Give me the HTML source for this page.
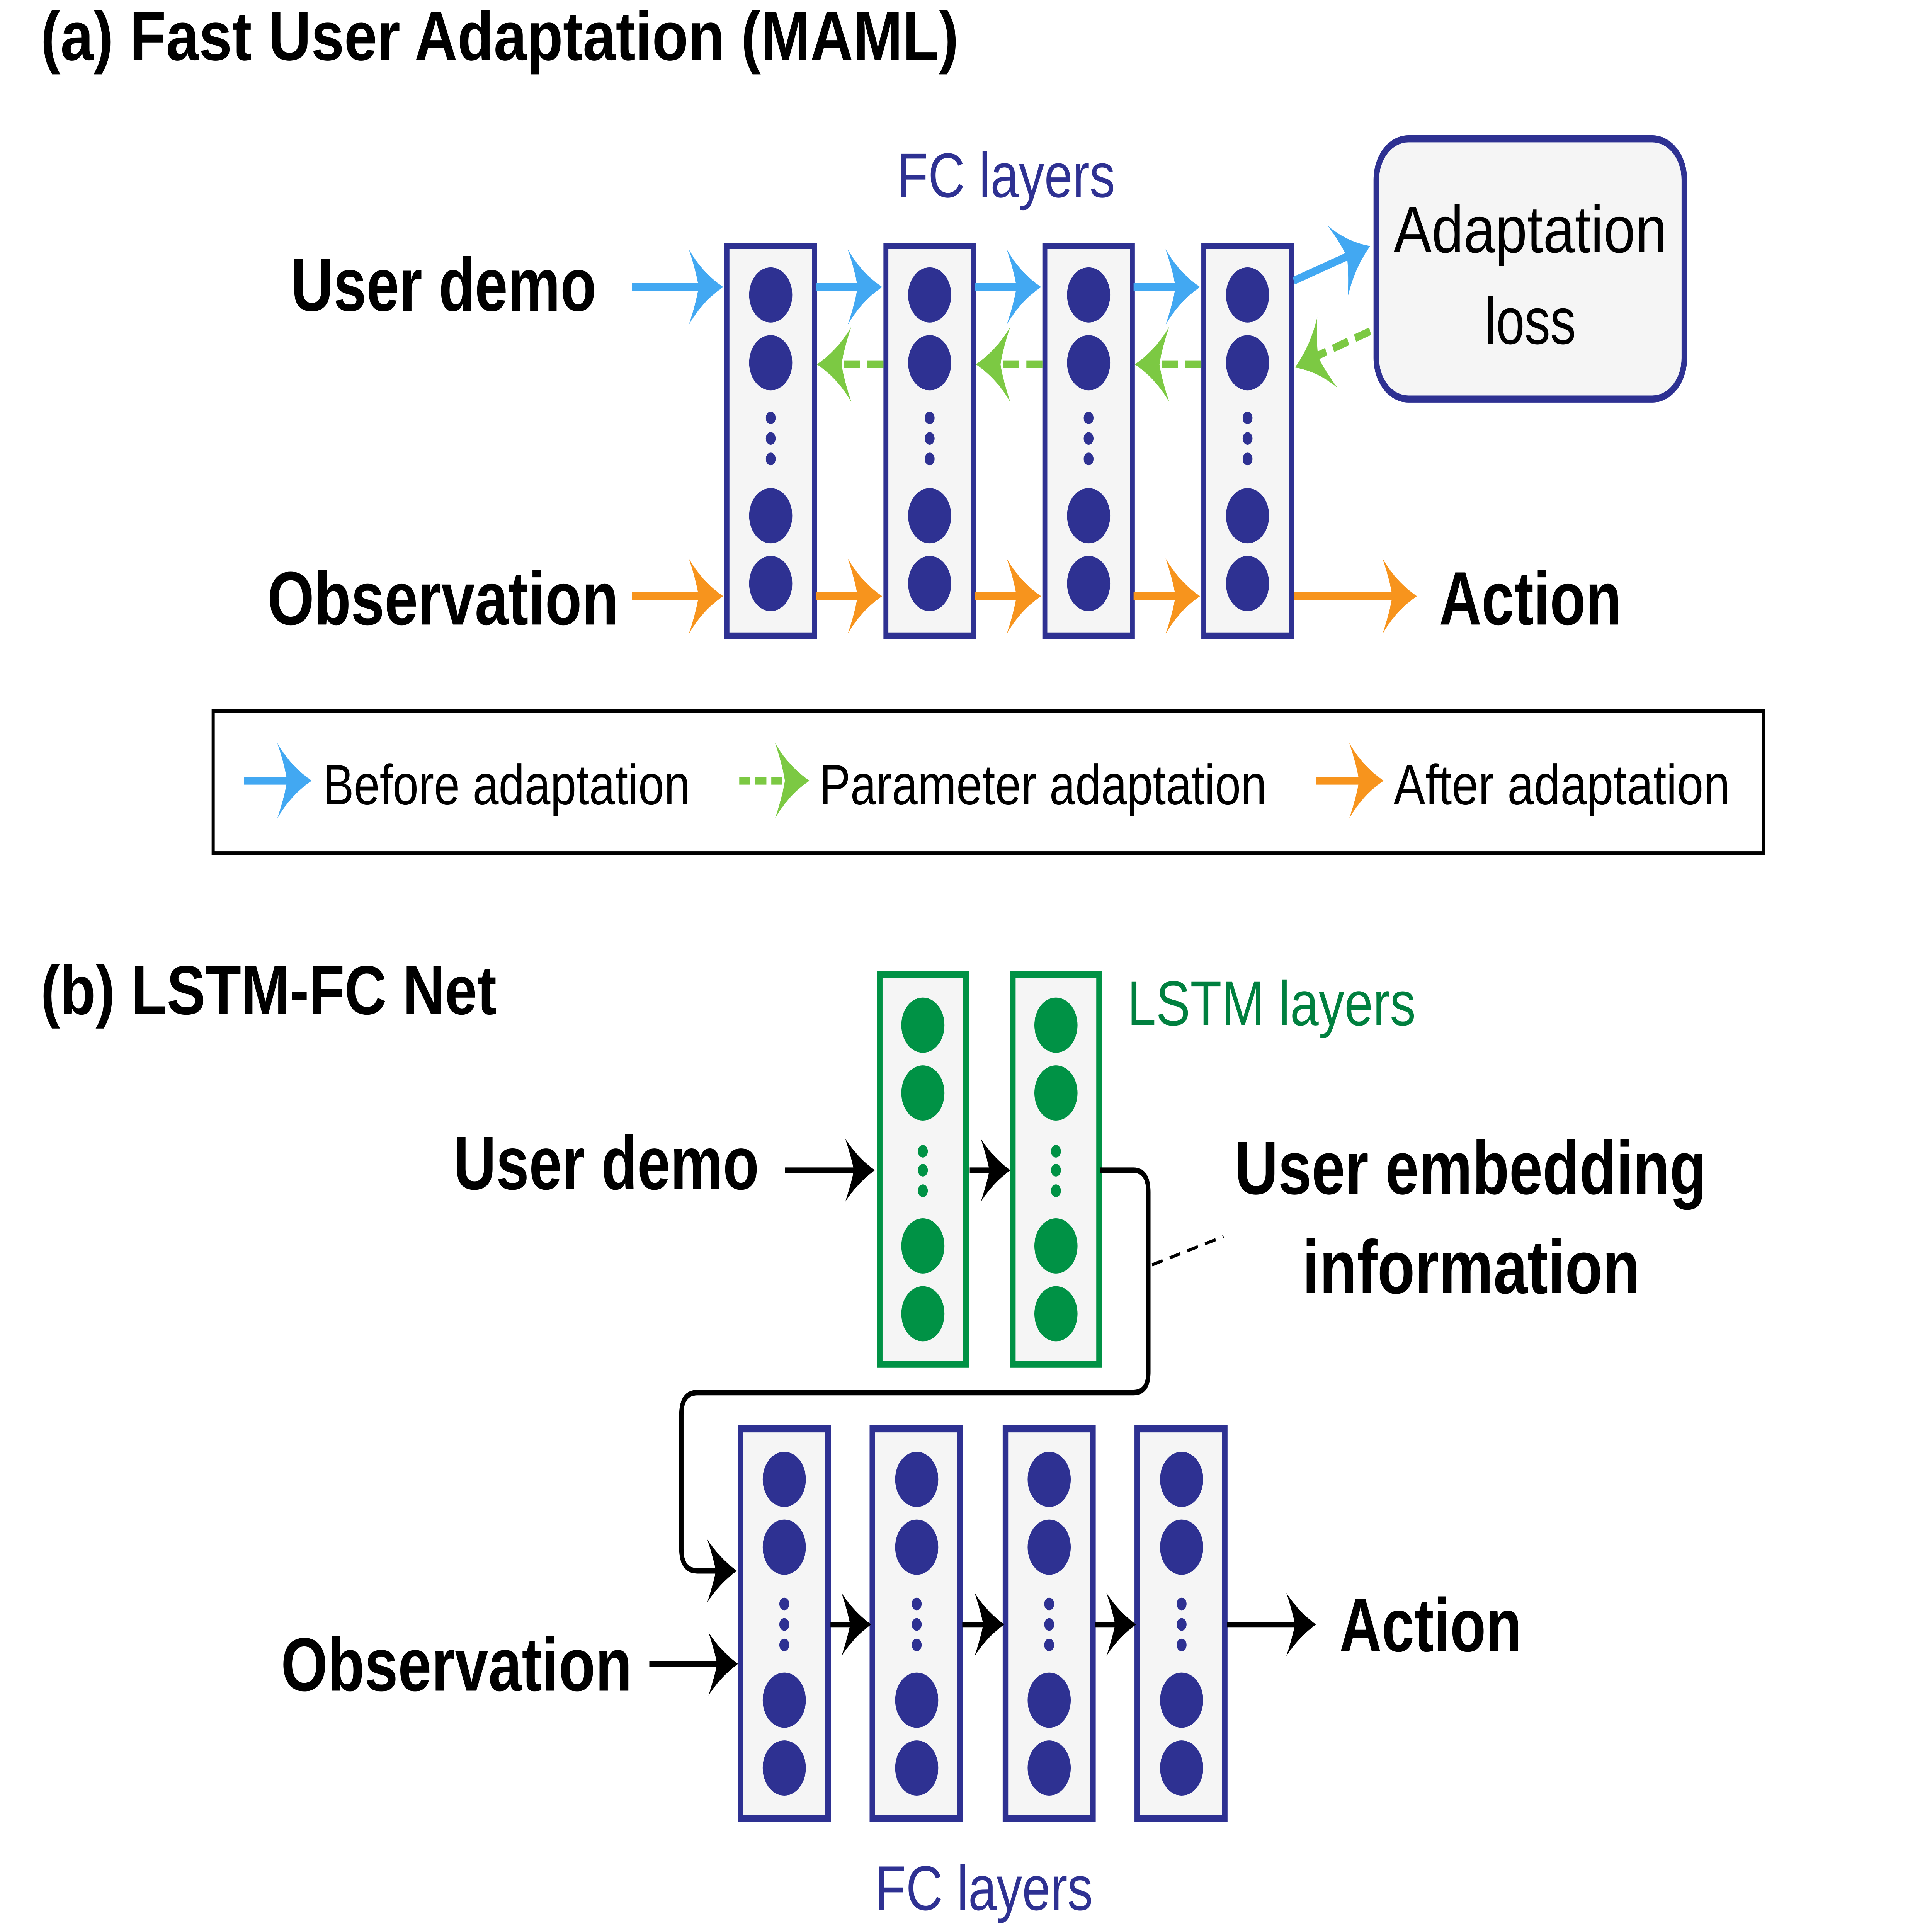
<!DOCTYPE html>
<html><head><meta charset="utf-8"><style>html,body{margin:0;padding:0;background:#fff;width:100%;height:100%;overflow:hidden}svg{display:block;width:100vw;height:100vh}</style></head>
<body>
<svg xmlns="http://www.w3.org/2000/svg" viewBox="0 0 1568 1225" preserveAspectRatio="none" font-family="'Liberation Sans', sans-serif">
<defs>
<path id="h" d="M0 0 Q-17 -9 -28 -24 Q-22 -10 -20 0 Q-22 10 -28 24 Q-17 9 0 0Z"/>
<path id="hs" d="M0 0 Q-14 -8 -24 -20 Q-19 -8 -17 0 Q-19 8 -24 20 Q-14 8 0 0Z"/>
</defs>
<rect width="1568" height="1225" fill="#fff"/>
<text x="33" y="38" font-size="44" font-weight="bold" textLength="745" lengthAdjust="spacingAndGlyphs">(a) Fast User Adaptation (MAML)</text>
<text x="33" y="643" font-size="44" font-weight="bold" textLength="370" lengthAdjust="spacingAndGlyphs">(b) LSTM-FC Net</text>

<g fill="#f5f5f5" stroke="#2e3192" stroke-width="4">
<rect x="590" y="156" width="71" height="247"/>
<rect x="719" y="156" width="71" height="247"/>
<rect x="848" y="156" width="71" height="247"/>
<rect x="977" y="156" width="71" height="247"/>
</g>
<g fill="#2e3192">
<g id="colA">
<circle cx="625.5" cy="187" r="17.5"/><circle cx="625.5" cy="230" r="17.5"/>
<circle cx="625.5" cy="327" r="17.5"/><circle cx="625.5" cy="370" r="17.5"/>
<ellipse cx="625.5" cy="265" rx="4" ry="4"/><ellipse cx="625.5" cy="278" rx="4" ry="4"/><ellipse cx="625.5" cy="291" rx="4" ry="4"/>
</g>
<use href="#colA" x="129"/><use href="#colA" x="258"/><use href="#colA" x="387"/>
</g>

<g stroke="#42a8f2" stroke-width="5" fill="none">
<line x1="513" y1="182" x2="570" y2="182"/>
<line x1="662" y1="182" x2="700" y2="182"/>
<line x1="791" y1="182" x2="828" y2="182"/>
<line x1="920" y1="182" x2="957" y2="182"/>
<line x1="1050" y1="178" x2="1095" y2="162"/>
</g>
<g fill="#42a8f2">
<use href="#h" transform="translate(587,182)"/>
<use href="#h" transform="translate(716,182)"/>
<use href="#h" transform="translate(845,182)"/>
<use href="#h" transform="translate(974,182)"/>
<use href="#h" transform="translate(1112,156) rotate(-20)"/>
</g>
<g stroke="#7cc943" stroke-width="5" fill="none" stroke-dasharray="13 6">
<line x1="717" y1="231" x2="680" y2="231"/>
<line x1="846" y1="231" x2="809" y2="231"/>
<line x1="975" y1="231" x2="938" y2="231"/>
<line x1="1112" y1="210" x2="1068" y2="226"/>
</g>
<g fill="#7cc943">
<use href="#h" transform="translate(663,231) rotate(180)"/>
<use href="#h" transform="translate(792,231) rotate(180)"/>
<use href="#h" transform="translate(921,231) rotate(180)"/>
<use href="#h" transform="translate(1051,233) rotate(160)"/>
</g>
<g stroke="#f7941d" stroke-width="5" fill="none">
<line x1="513" y1="378" x2="570" y2="378"/>
<line x1="662" y1="378" x2="700" y2="378"/>
<line x1="791" y1="378" x2="828" y2="378"/>
<line x1="920" y1="378" x2="957" y2="378"/>
<line x1="1050" y1="378" x2="1132" y2="378"/>
</g>
<g fill="#f7941d">
<use href="#h" transform="translate(587,378)"/>
<use href="#h" transform="translate(716,378)"/>
<use href="#h" transform="translate(845,378)"/>
<use href="#h" transform="translate(974,378)"/>
<use href="#h" transform="translate(1150,378)"/>
</g>

<rect x="1117" y="88" width="250" height="165" rx="26" fill="#f5f5f5" stroke="#2e3192" stroke-width="4.5"/>
<text x="1242" y="160" font-size="42" text-anchor="middle" textLength="222" lengthAdjust="spacingAndGlyphs">Adaptation</text>
<text x="1242" y="218" font-size="42" text-anchor="middle" textLength="74" lengthAdjust="spacingAndGlyphs">loss</text>

<text x="728" y="125" font-size="40" fill="#2e3192" textLength="177" lengthAdjust="spacingAndGlyphs">FC layers</text>
<text x="236" y="197" font-size="48" font-weight="bold" textLength="248" lengthAdjust="spacingAndGlyphs">User demo</text>
<text x="217" y="396" font-size="48" font-weight="bold" textLength="285" lengthAdjust="spacingAndGlyphs">Observation</text>
<text x="1168" y="396" font-size="48" font-weight="bold" textLength="148" lengthAdjust="spacingAndGlyphs">Action</text>

<rect x="173" y="451" width="1258" height="90" fill="none" stroke="#000" stroke-width="2.5"/>
<line x1="198" y1="495" x2="236" y2="495" stroke="#42a8f2" stroke-width="5"/>
<use href="#h" fill="#42a8f2" transform="translate(253,495)"/>
<text x="262" y="510" font-size="36" textLength="298" lengthAdjust="spacingAndGlyphs">Before adaptation</text>
<line x1="600" y1="495" x2="640" y2="495" stroke="#7cc943" stroke-width="5" stroke-dasharray="9 4"/>
<use href="#h" fill="#7cc943" transform="translate(657,495)"/>
<text x="665" y="510" font-size="36" textLength="363" lengthAdjust="spacingAndGlyphs">Parameter adaptation</text>
<line x1="1068" y1="495" x2="1106" y2="495" stroke="#f7941d" stroke-width="5"/>
<use href="#h" fill="#f7941d" transform="translate(1123,495)"/>
<text x="1131" y="510" font-size="36" textLength="273" lengthAdjust="spacingAndGlyphs">After adaptation</text>

<g fill="#f5f5f5" stroke="#009245" stroke-width="4.5">
<rect x="714" y="618" width="70" height="247"/>
<rect x="822" y="618" width="70" height="247"/>
</g>
<g fill="#009245">
<g id="colL">
<circle cx="749" cy="650" r="17.5"/><circle cx="749" cy="693" r="17.5"/>
<circle cx="749" cy="790" r="17.5"/><circle cx="749" cy="833" r="17.5"/>
<ellipse cx="749" cy="730" rx="4" ry="4"/><ellipse cx="749" cy="742" rx="4" ry="4"/><ellipse cx="749" cy="755" rx="4" ry="4"/>
</g>
<use href="#colL" x="108"/>
</g>
<text x="915" y="650" font-size="40" fill="#00803f" textLength="234" lengthAdjust="spacingAndGlyphs">LSTM layers</text>

<g fill="#f5f5f5" stroke="#2e3192" stroke-width="4.5">
<rect x="601" y="906" width="71" height="247"/>
<rect x="708" y="906" width="71" height="247"/>
<rect x="816" y="906" width="71" height="247"/>
<rect x="923" y="906" width="71" height="247"/>
</g>
<g fill="#2e3192">
<g id="colB">
<circle cx="636.5" cy="938" r="17.5"/><circle cx="636.5" cy="981" r="17.5"/>
<circle cx="636.5" cy="1078" r="17.5"/><circle cx="636.5" cy="1121" r="17.5"/>
<ellipse cx="636.5" cy="1017" rx="4" ry="4"/><ellipse cx="636.5" cy="1030" rx="4" ry="4"/><ellipse cx="636.5" cy="1043" rx="4" ry="4"/>
</g>
<use href="#colB" x="107.5"/><use href="#colB" x="215"/><use href="#colB" x="322.5"/>
</g>

<g stroke="#000" stroke-width="3.5" fill="none">
<line x1="637" y1="742" x2="695" y2="742"/>
<line x1="787" y1="742" x2="805" y2="742"/>
<path d="M893 742 H920 Q932 742 932 756 V870 Q932 883 920 883 H566 Q553 883 553 897 V982 Q553 996 566 996 H583"/>
<line x1="527" y1="1055" x2="583" y2="1055"/>
<line x1="674" y1="1030" x2="692" y2="1030"/>
<line x1="781" y1="1030" x2="800" y2="1030"/>
<line x1="889" y1="1030" x2="907" y2="1030"/>
<line x1="996" y1="1030" x2="1052" y2="1030"/>
<line x1="935" y1="802" x2="993" y2="784" stroke-width="2" stroke-dasharray="9 6"/>
</g>
<g fill="#000">
<use href="#hs" transform="translate(710,742)"/>
<use href="#hs" transform="translate(820,742)"/>
<use href="#hs" transform="translate(598,996)"/>
<use href="#hs" transform="translate(599,1055)"/>
<use href="#hs" transform="translate(707,1030)"/>
<use href="#hs" transform="translate(815,1030)"/>
<use href="#hs" transform="translate(922,1030)"/>
<use href="#hs" transform="translate(1068,1030)"/>
</g>

<text x="368" y="754" font-size="48" font-weight="bold" textLength="248" lengthAdjust="spacingAndGlyphs">User demo</text>
<text x="1002" y="757" font-size="48" font-weight="bold" textLength="383" lengthAdjust="spacingAndGlyphs">User embedding</text>
<text x="1057" y="820" font-size="48" font-weight="bold" textLength="274" lengthAdjust="spacingAndGlyphs">information</text>
<text x="228" y="1072" font-size="48" font-weight="bold" textLength="285" lengthAdjust="spacingAndGlyphs">Observation</text>
<text x="1087" y="1047" font-size="48" font-weight="bold" textLength="148" lengthAdjust="spacingAndGlyphs">Action</text>
<text x="710" y="1211" font-size="40" fill="#2e3192" textLength="177" lengthAdjust="spacingAndGlyphs">FC layers</text>
</svg>
</body></html>
